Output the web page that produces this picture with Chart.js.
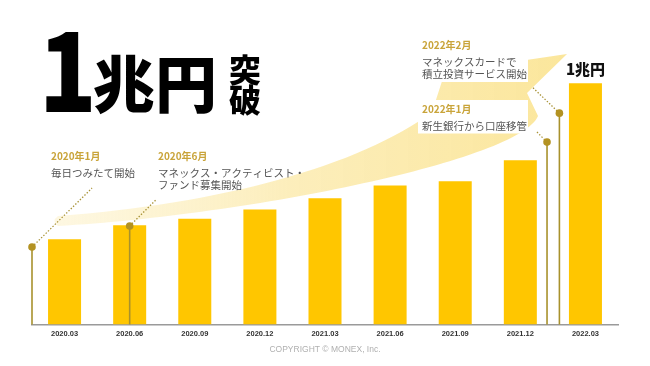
<!DOCTYPE html>
<html>
<head>
<meta charset="utf-8">
<script src="https://cdn.jsdelivr.net/npm/chart.js@4.4.1/dist/chart.umd.min.js"></script>
<style>
  html,body{margin:0;padding:0;background:#fff;}
  #wrap{width:650px;height:366px;position:relative;}
</style>
</head>
<body>
<div id="wrap"><canvas id="c" width="650" height="366"></canvas></div>
<script>
// ---- data ----
const categories = ['2020.03','2020.06','2020.09','2020.12','2021.03','2021.06','2021.09','2021.12','2022.03'];
const balances = [3530, 4110, 4380, 4770, 5230, 5760, 5940, 6810, 10000]; // 億円
const peakLabel = '1兆円';
// events: position on the category axis (fractional index) and dot level (億円)
const eventPos = [-0.5, 1, 7.41, 7.6];
const eventLevel = [3210, 4080, 7560, 8760];
const eventDates = ['2020年1月', '2020年6月', '2022年1月', '2022年2月'];
const eventTexts = [
  ['毎日つみたて開始'],
  ['マネックス・アクティビスト・', 'ファンド募集開始'],
  ['新生銀行から口座移管'],
  ['マネックスカードで', '積立投資サービス開始']
];
const titleMain = ['1', '兆円'];
const titleSub = ['突', '破'];
const copyright = 'COPYRIGHT © MONEX, Inc.';

const JP = '"Noto Sans CJK JP", "Noto Sans", sans-serif';
const GOLD = '#c9a43a';
const OLIVE = '#a8912c';

// label anchors (text layout) and leader offsets
const labelBoxes = [
  {x: 51, y: 156, lead: [60, -59], white: false},
  {x: 158, y: 156, lead: [27, -27], white: false},
  {x: 422, y: 109, lead: [-11, -11], white: true},
  {x: 422, y: 45, lead: [-27, -26], white: true}
];

const arrowPlugin = {
  id: 'arrow',
  beforeDatasetsDraw(chart) {
    const ctx = chart.ctx;
    ctx.save();
    const g = ctx.createLinearGradient(58, 0, 570, 0);
    g.addColorStop(0, 'rgba(253,244,212,0.7)');
    g.addColorStop(0.45, 'rgba(252,237,184,0.95)');
    g.addColorStop(1, 'rgba(251,230,155,1)');
    ctx.fillStyle = g;
    ctx.beginPath();
    ctx.moveTo(58, 216);
    ctx.bezierCurveTo(220, 204, 360, 166, 432, 112);
    ctx.lineTo(445, 72);
    ctx.lineTo(567, 54);
    ctx.lineTo(527, 93);
    ctx.lineTo(538, 116);
    ctx.bezierCurveTo(520, 160, 250, 215, 58, 226);
    ctx.quadraticCurveTo(51, 221, 58, 216);
    ctx.closePath();
    ctx.fill();
    ctx.restore();
  }
};

const overlayPlugin = {
  id: 'overlay',
  afterDatasetsDraw(chart) {
    const ctx = chart.ctx;
    const xs = chart.scales.x, ys = chart.scales.y;
    const base = ys.getPixelForValue(0);
    ctx.save();
    // event labels (with white backing where they sit on the arrow)
    eventDates.forEach((d, i) => {
      const lb = labelBoxes[i];
      const lines = eventTexts[i];
      if (lb.white) {
        ctx.fillStyle = '#ffffff';
        ctx.fillRect(lb.x - 4, lb.y - 9, 110, 21 + lines.length * 12.5);
      }
      ctx.textAlign = 'left';
      ctx.textBaseline = 'middle';
      ctx.fillStyle = GOLD;
      ctx.font = 'bold 10px ' + JP;
      ctx.fillText(d, lb.x, lb.y);
      ctx.fillStyle = '#555555';
      ctx.font = '10.5px ' + JP;
      lines.forEach((t, k) => ctx.fillText(t, lb.x, lb.y + 17 + k * 12.5));
    });
    // event markers
    eventPos.forEach((p, i) => {
      const x = xs.getPixelForValue(p);
      const y = ys.getPixelForValue(eventLevel[i]);
      ctx.strokeStyle = OLIVE;
      ctx.lineWidth = 1.6;
      ctx.setLineDash([]);
      ctx.beginPath();
      ctx.moveTo(x, base);
      ctx.lineTo(x, y);
      ctx.stroke();
      const lb = labelBoxes[i];
      ctx.strokeStyle = '#a89236';
      ctx.lineWidth = 1.3;
      ctx.setLineDash([1.4, 1.8]);
      ctx.beginPath();
      ctx.moveTo(x, y);
      ctx.lineTo(x + lb.lead[0], y + lb.lead[1]);
      ctx.stroke();
      ctx.setLineDash([]);
      ctx.fillStyle = '#b39222';
      ctx.beginPath();
      ctx.arc(x, y, 3.8, 0, Math.PI * 2);
      ctx.fill();
    });
    // peak label
    const last = balances.length - 1;
    ctx.fillStyle = '#111';
    ctx.font = '900 15px ' + JP;
    ctx.textAlign = 'center';
    ctx.textBaseline = 'middle';
    ctx.fillText(peakLabel, xs.getPixelForValue(last), ys.getPixelForValue(balances[last]) - 14);
    // title
    ctx.textAlign = 'left';
    ctx.fillStyle = '#000';
    ctx.textBaseline = 'alphabetic';
    ctx.save();
    ctx.translate(39, 112);
    ctx.scale(0.86, 1);
    ctx.font = '900 110px ' + JP;
    ctx.fillText(titleMain[0], 0, 0);
    ctx.restore();
    ctx.textBaseline = 'middle';
    ctx.font = '900 62px ' + JP;
    ctx.fillText(titleMain[1], 93, 84);
    ctx.textAlign = 'center';
    ctx.font = '900 32px ' + JP;
    ctx.fillText(titleSub[0], 245, 70);
    ctx.fillText(titleSub[1], 245, 100);
    // copyright
    ctx.fillStyle = '#b0b0b0';
    ctx.font = '8.5px "Liberation Sans", Arial, sans-serif';
    ctx.fillText(copyright, 325, 350);
    ctx.restore();
  }
};

new Chart(document.getElementById('c'), {
  type: 'bar',
  data: {
    labels: categories,
    datasets: [{
      data: balances,
      backgroundColor: '#ffc600',
      borderWidth: 0,
      barPercentage: 1,
      categoryPercentage: 0.507
    }]
  },
  options: {
    responsive: false,
    animation: false,
    layout: {padding: {left: 32, right: 32, top: 35, bottom: 22.5}},
    plugins: {legend: {display: false}, tooltip: {enabled: false}},
    scales: {
      x: {
        grid: {display: false, drawTicks: false},
        border: {display: true, color: '#9a9a9a', width: 1.5},
        ticks: {color: '#333', padding: 5, font: {family: '"Liberation Sans", Arial, sans-serif', weight: 'bold', size: 7.5}}
      },
      y: {display: false, min: 0, max: 12000}
    }
  },
  plugins: [arrowPlugin, overlayPlugin]
});
</script>
</body>
</html>
